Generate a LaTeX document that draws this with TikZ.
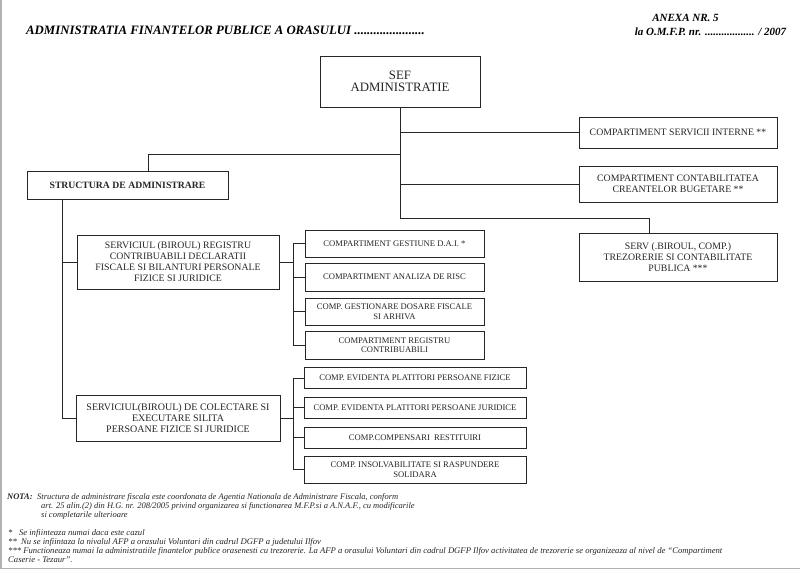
\documentclass[tikz,border=0pt]{standalone}
\usepackage{fontspec}
\setmainfont{Liberation Serif}
\begin{document}
\begin{tikzpicture}[x=1pt,y=-1pt,
  box/.style={draw=black!85, line width=0.9pt, rectangle, inner sep=1pt, align=center, font=\fontsize{9.8}{11}\selectfont, text=black!85},
  conn/.style={draw=black!85, line width=0.9pt},
  hdr/.style={font=\fontsize{11}{12}\selectfont\bfseries\itshape, inner sep=0pt},
  note/.style={font=\fontsize{8.5}{9}\selectfont\itshape, inner sep=0pt, anchor=west, text=black!85}]
\useasboundingbox (0,0) rectangle (800,572);
\fill[white] (0,0) rectangle (800,572);
\draw[black!30, line width=1.5pt] (1,0) -- (1,568.5) -- (800,568.5);

% header
\node[hdr, anchor=west, font=\fontsize{12.8}{14}\selectfont\bfseries\itshape] (title) at (26,30) {ADMINISTRATIA FINANTELOR PUBLICE A ORASULUI ......................};
\node[hdr] (anexa) at (685.5,18) {ANEXA NR. 5};
\node[hdr] (omfp) at (710.5,32) {la O.M.F.P. nr. .................. / 2007};

% boxes
\node[box, minimum width=160, minimum height=51, font=\fontsize{12.8}{14}\selectfont] (sef) at (400,81.5) {\raisebox{-2pt}{\shortstack{SEF\\[1pt]ADMINISTRATIE}}};
\node[box, minimum width=198, minimum height=31] (si) at (678,132.5) {COMPARTIMENT SERVICII INTERNE **};
\node[box, minimum width=198, minimum height=36] (cc) at (678,184) {COMPARTIMENT CONTABILITATEA\\CREANTELOR BUGETARE **};
\node[box, minimum width=198, minimum height=48] (trez) at (678,257) {SERV (.BIROUL, COMP.)\\TREZORERIE SI CONTABILITATE\\PUBLICA ***};
\node[box, minimum width=201, minimum height=28, font=\fontsize{9.7}{10}\selectfont\bfseries] (struct) at (127.5,185) {STRUCTURA DE ADMINISTRARE};
\node[box, minimum width=202, minimum height=54] (reg) at (178,262) {SERVICIUL (BIROUL) REGISTRU\\CONTRIBUABILI DECLARATII\\FISCALE SI BILANTURI PERSONALE\\FIZICE SI JURIDICE};
\node[box, minimum width=204, minimum height=46, font=\fontsize{10}{11}\selectfont] (col) at (178,418) {SERVICIUL(BIROUL) DE COLECTARE SI\\EXECUTARE SILITA\\PERSOANE FIZICE SI JURIDICE};

\tikzset{small/.style={box, font=\fontsize{8.6}{9.5}\selectfont}}
\node[small, minimum width=179, minimum height=27] (g1) at (394.5,243.5) {COMPARTIMENT GESTIUNE D.A.I. *};
\node[small, minimum width=179, minimum height=28] (g2) at (394.5,277) {COMPARTIMENT ANALIZA DE RISC};
\node[small, minimum width=179, minimum height=27] (g3) at (394.5,311.5) {COMP. GESTIONARE DOSARE FISCALE\\SI ARHIVA};
\node[small, minimum width=179, minimum height=28] (g4) at (394.5,345) {COMPARTIMENT REGISTRU\\CONTRIBUABILI};

\node[small, minimum width=222, minimum height=21] (c1) at (415,378) {COMP. EVIDENTA PLATITORI PERSOANE FIZICE};
\node[small, minimum width=222, minimum height=21] (c2) at (415,407.5) {COMP. EVIDENTA PLATITORI PERSOANE JURIDICE};
\node[small, minimum width=222, minimum height=21] (c3) at (415,437.5) {COMP.COMPENSARI\ \ RESTITUIRI};
\node[small, minimum width=222, minimum height=27] (c4) at (415,469.5) {COMP. INSOLVABILITATE SI RASPUNDERE\\SOLIDARA};

% connectors
\coordinate (jt) at (649,218);
\coordinate (js) at (148,154);
\coordinate (sp) at (62,0);
\coordinate (sr) at (293,0);
\draw[conn] (sef.south) |- (jt) -- (jt |- trez.north);
\draw[conn] (sef.south |- si.west) -- (si.west);
\draw[conn] (sef.south |- cc.west) -- (cc.west);
\draw[conn] (sef.south |- js) -- (js) -- (js |- struct.north);
\draw[conn] (sp |- struct.south) |- (col.west);
\draw[conn] (sp |- reg.west) -- (reg.west);
\draw[conn] (reg.east) -- (reg.east -| sr);
\draw[conn] (g1.west) -- (g1.west -| sr) -- (g4.west -| sr) -- (g4.west);
\draw[conn] (sr |- g2.west) -- (g2.west);
\draw[conn] (sr |- g3.west) -- (g3.west);
\draw[conn] (col.east) -- (col.east -| sr);
\draw[conn] (c1.west) -- (c1.west -| sr) -- (c4.west -| sr) -- (c4.west);
\draw[conn] (sr |- c2.west) -- (c2.west);
\draw[conn] (sr |- c3.west) -- (c3.west);

% footer notes
\node[note, font=\fontsize{8.5}{9}\selectfont\bfseries\itshape] (nota) at (7,497) {NOTA:};
\node[note] (n1) at (37,497) {Structura de administrare fiscala este coordonata de Agentia Nationala de Administrare Fiscala, conform};
\node[note] (n2) at (41,506) {art. 25 alin.(2) din H.G. nr. 208/2005 privind organizarea si functionarea M.F.P.si a A.N.A.F., cu modificarile};
\node[note] (n3) at (41,515) {si completarile ulterioare};
\tikzset{fnote/.style={note, font=\fontsize{8.65}{9}\selectfont\itshape}}
\node[fnote] (f1) at (8,533) {*\ \ \ Se infiinteaza numai daca este cazul};
\node[fnote] (f2) at (8,542) {**\ \ Nu se infiintaza la nivalul AFP a orasului Voluntari din cadrul DGFP a judetului Ilfov};
\node[fnote] (f3) at (8,551) {*** Functioneaza numai la administratiile finantelor publice orasenesti cu trezorerie. La AFP a orasului Voluntari din cadrul DGFP Ilfov activitatea de trezorerie se organizeaza al nivel de ``Compartiment};
\node[fnote] (f4) at (8,560) {Caserie - Tezaur''.};
\end{tikzpicture}
\end{document}
